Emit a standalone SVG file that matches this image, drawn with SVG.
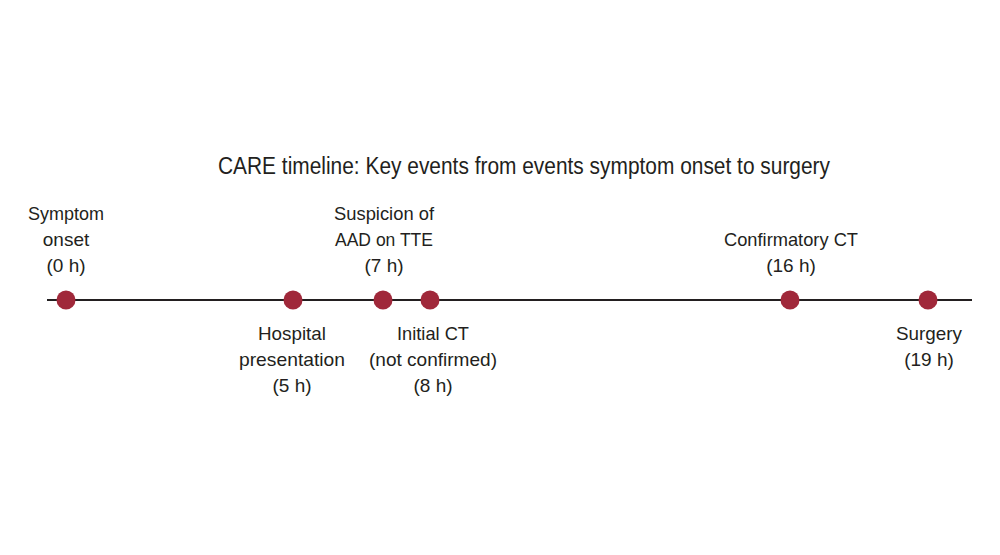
<svg xmlns="http://www.w3.org/2000/svg" width="1000" height="555" viewBox="0 0 1000 555">
<style>
text{font-family:"Liberation Sans",Arial,sans-serif;font-size:19px;fill:#231f20;text-anchor:middle}
.d{fill:#a0283a}
</style>
<rect width="1000" height="555" fill="#fff"/>
<text x="524" y="174" font-size="22" textLength="612" lengthAdjust="spacingAndGlyphs" style="font-size:23px">CARE timeline: Key events from events symptom onset to surgery</text>
<g id="connectors"><line x1="47" y1="300" x2="972" y2="300" stroke="#231f20" stroke-width="2"/></g>
<g id="n0"><circle class="d" cx="66" cy="300" r="9.5"/><text x="66" y="220" textLength="76" lengthAdjust="spacingAndGlyphs">Symptom</text><text x="66" y="246">onset</text><text x="66" y="272">(0 h)</text></g>
<g id="n1"><circle class="d" cx="293" cy="300" r="9.5"/><text x="292" y="340" textLength="68" lengthAdjust="spacingAndGlyphs">Hospital</text><text x="292" y="366" textLength="106" lengthAdjust="spacingAndGlyphs">presentation</text><text x="292" y="392">(5 h)</text></g>
<g id="n2"><circle class="d" cx="383" cy="300" r="9.5"/><text x="384" y="220" textLength="100" lengthAdjust="spacingAndGlyphs">Suspicion of</text><text x="384" y="246" textLength="98" lengthAdjust="spacingAndGlyphs">AAD on TTE</text><text x="384" y="272">(7 h)</text></g>
<g id="n3"><circle class="d" cx="430" cy="300" r="9.5"/><text x="433" y="340" textLength="72" lengthAdjust="spacingAndGlyphs">Initial CT</text><text x="433" y="366" textLength="128" lengthAdjust="spacingAndGlyphs">(not confirmed)</text><text x="433" y="392">(8 h)</text></g>
<g id="n4"><circle class="d" cx="790" cy="300" r="9.5"/><text x="791" y="246" textLength="134" lengthAdjust="spacingAndGlyphs">Confirmatory CT</text><text x="791" y="272">(16 h)</text></g>
<g id="n5"><circle class="d" cx="928" cy="300" r="9.5"/><text x="929" y="340" textLength="66" lengthAdjust="spacingAndGlyphs">Surgery</text><text x="929" y="366">(19 h)</text></g>
</svg>
